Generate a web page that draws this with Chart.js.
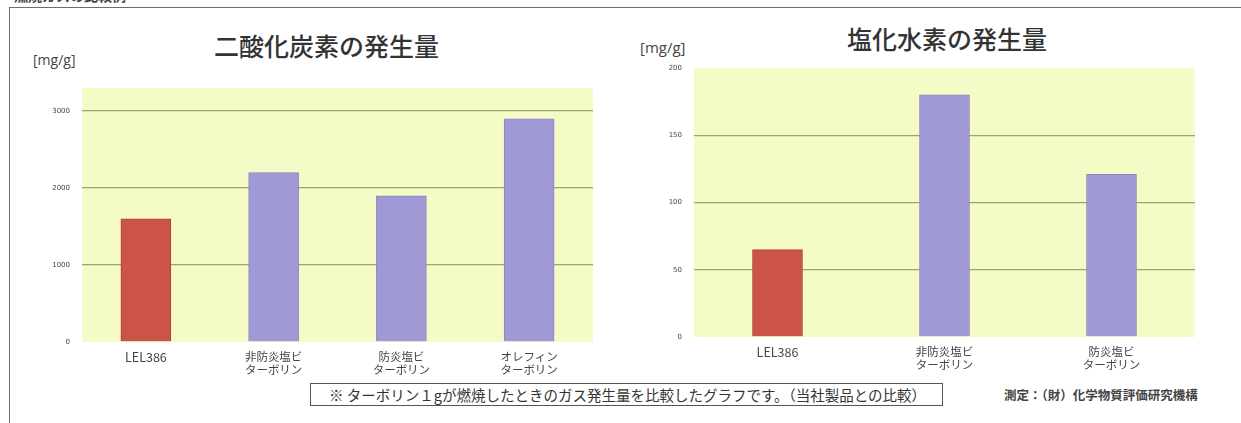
<!DOCTYPE html>
<html>
<head>
<meta charset="utf-8">
<script src="https://cdn.jsdelivr.net/npm/chart.js@4.4.1/dist/chart.umd.min.js"></script>
<style>
  body { margin: 0; background: #fff; width: 1241px; height: 423px; overflow: hidden; position: relative;
         font-family: "Noto Sans CJK JP", "Noto Sans", sans-serif; color: #333; }
  .abs { position: absolute; }
  #frame { left: 9px; top: 7px; width: 1260px; height: 440px; border: 1.5px solid #6e6e6e; }
  .title { font-size: 25px; font-weight: 500; color: #333; white-space: nowrap; }
  .unit { color: #444; white-space: nowrap; font-family: "Open Sans", "Noto Sans", sans-serif; }
  #note { left: 310px; top: 383px; width: 633px; height: 23px; border: 1.3px solid #555; font-size: 14.5px;
          line-height: 21px; padding-left: 18px; box-sizing: border-box; color: #333; white-space: nowrap; }
  #src { left: 1004px; top: 385px; font-size: 12.5px; font-weight: bold; color: #444; white-space: nowrap; }
</style>
</head>
<body>
<div class="abs" style="left:14px; top:-15px; font-size:14px; font-weight:bold; color:#444;">燃焼ガスの比較例</div>
<div id="frame" class="abs"></div>

<div class="abs title" style="left:214px; top:27px;">二酸化炭素の発生量</div>
<div class="abs unit" style="left:33px; top:50px; font-size:14px;">[mg/g]</div>
<div class="abs" style="left:40px; top:20px; width:560px; height:360px;"><canvas id="co2Chart"></canvas></div>

<div class="abs title" style="left:847px; top:20px;">塩化水素の発生量</div>
<div class="abs unit" style="left:640px; top:37px; font-size:15px;">[mg/g]</div>
<div class="abs" style="left:640px; top:20px; width:565px; height:360px;"><canvas id="hclChart"></canvas></div>

<div id="note" class="abs">※ ターボリン１gが燃焼したときのガス発生量を比較したグラフです。（当社製品との比較）</div>
<div id="src" class="abs">測定：（財）化学物質評価研究機構</div>

<script>
document.addEventListener("DOMContentLoaded", function () {
  // データ
  const co2Labels = ["LEL386", ["非防炎塩ビ", "ターボリン"], ["防炎塩ビ", "ターボリン"], ["オレフィン", "ターボリン"]];
  const co2Values = [1600, 2200, 1900, 2900];
  const co2Ticks = [0, 1000, 2000, 3000];

  const hclLabels = ["LEL386", ["非防炎塩ビ", "ターボリン"], ["防炎塩ビ", "ターボリン"]];
  const hclValues = [65, 180, 121];
  const hclTicks = [0, 50, 100, 150, 200];

  const RED = "#cc5447";
  const PURPLE = "#9f9ad6";

  /* ===== 背景（黄色） ===== */
  const yellowBg = {
    id: "yellowBg",
    beforeDraw(chart) {
      const a = chart.chartArea;
      const c = chart.ctx;
      c.save();
      c.fillStyle = "#f4fbc6";
      c.fillRect(a.left, a.top, a.right - a.left, a.bottom - a.top);
      c.restore();
    },
  };

  function makeChart(id, labels, values, ticks, max, yWidth, pad) {
    const ctx = document.getElementById(id).getContext("2d");
    new Chart(ctx, {
      type: "bar",
      data: {
        labels: labels,
        datasets: [
          {
            data: values,
            backgroundColor: values.map((v, i) => (i === 0 ? RED : PURPLE)),
            borderColor: values.map((v, i) => (i === 0 ? "#a9443a" : "#8a85c2")),
            borderWidth: 1,
            barThickness: 50,
          },
        ],
      },
      options: {
        responsive: true,
        maintainAspectRatio: false,
        animation: false,
        layout: { padding: pad },
        plugins: { legend: { display: false }, tooltip: { enabled: false } },
        scales: {
          x: {
            grid: { display: false },
            border: { display: false },
            afterFit: function (s) { s.height = 36; },
            ticks: {
              color: "#444",
              padding: 0,
              maxRotation: 0,
              font: (c) => ({
                size: c.index === 0 ? 12.5 : 11.5,
                family: "'Noto Sans CJK JP', sans-serif",
                lineHeight: 1.15,
              }),
            },
          },
          y: {
            min: 0,
            max: max,
            afterFit: function (s) { s.width = yWidth; },
            afterBuildTicks: function (s) { s.ticks = ticks.map((v) => ({ value: v })); },
            border: { display: false },
            grid: {
              drawTicks: false,
              lineWidth: 1.3,
              color: (c) => (c.tick && c.tick.value > 0 && c.tick.value < max ? "#9aa764" : "rgba(0,0,0,0)"),
            },
            ticks: {
              color: "#444",
              padding: 12,
              callback: (v) => String(v),
              font: { size: 7, family: "'DejaVu Sans', sans-serif" },
            },
          },
        },
      },
      plugins: [yellowBg],
    });
  }

  makeChart("co2Chart", co2Labels, co2Values, co2Ticks, 3300, 42, { top: 68, right: 7, bottom: 2, left: 0 });
  makeChart("hclChart", hclLabels, hclValues, hclTicks, 200, 54, { top: 48, right: 10, bottom: 7, left: 0 });
});
</script>
</body>
</html>
